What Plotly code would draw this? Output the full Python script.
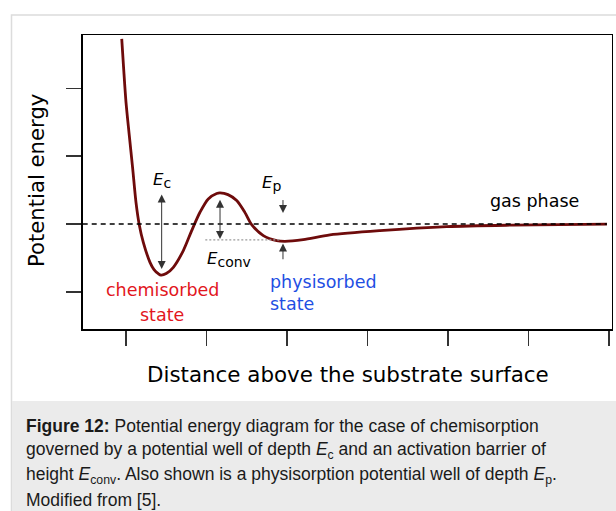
import plotly.graph_objects as go

# ---- data ----
distance = [0.947, 0.971, 1.000, 1.041, 1.083, 1.124, 1.165, 1.215, 1.298, 1.348, 1.401, 1.435,
            1.500, 1.588, 1.712, 1.816, 1.919, 2.022, 2.127, 2.168, 2.267, 2.375, 2.478,
            2.561, 2.706, 2.872, 2.975, 3.202, 3.534, 4.155, 4.984, 5.807, 6.390, 6.975]
energy = [2.727, 2.286, 1.794, 1.303, 0.817, 0.321, -0.012, -0.268, -0.563, -0.670, -0.730, -0.752,
          -0.728, -0.636, -0.390, -0.096, 0.174, 0.371, 0.450, 0.459, 0.434, 0.346, 0.169,
          -0.007, -0.169, -0.243, -0.253, -0.228, -0.159, -0.096, -0.037, -0.015, -0.007, 0.000]
x_ticks = [1, 2, 3, 4, 5, 6, 7]
y_ticks = [-1, 0, 1, 2]
gas_level = 0.0
phys_min_level = -0.233
ec_span = [0.459, -0.66]
econv_span = [0.38, -0.218]
ep_down = [0.376, 0.162]
ep_up = [-0.54, -0.285]

W, H = 616, 511
def px(x):
    return x / W
def py(y):
    return 1 - y / H

FONT = "DejaVu Sans"
CURVE = "#6e0b0b"

fig = go.Figure()
fig.add_trace(go.Scatter(x=distance, y=energy, mode="lines",
                         line=dict(color=CURVE, width=2.8, shape="spline", smoothing=0.8),
                         hoverinfo="skip", showlegend=False))

shapes = []
# outer container border and caption background
shapes.append(dict(type="rect", xref="paper", yref="paper", x0=px(11.5), x1=1.05,
                   y0=-0.05, y1=py(15), line=dict(color="#dcdcdc", width=1.5),
                   fillcolor="rgba(0,0,0,0)", layer="below"))
shapes.append(dict(type="rect", xref="paper", yref="paper", x0=px(12), x1=1.0,
                   y0=0, y1=py(401), line=dict(width=0), fillcolor="#ebebeb", layer="below"))
# gas phase dashed line
shapes.append(dict(type="line", xref="x", yref="y", x0=0.462, x1=distance[-1],
                   y0=gas_level, y1=gas_level, line=dict(color="black", width=1.5, dash="5px,4px")))
# gray dotted reference line
shapes.append(dict(type="line", xref="x", yref="y", x0=1.985, x1=2.93,
                   y0=phys_min_level, y1=phys_min_level, line=dict(color="#9a9a9a", width=1.2, dash="2px,2px")))

ann = []
def arrow(x, y_tip, y_tail, both=False):
    ann.append(dict(x=x, y=y_tip, ax=x, ay=y_tail, xref="x", yref="y", axref="x", ayref="y",
                    text="", showarrow=True, arrowhead=2, arrowsize=1.6, arrowwidth=1,
                    arrowcolor="#333333", arrowside="end+start" if both else "end",
                    standoff=0, startstandoff=0))

arrow(1.443, ec_span[1], ec_span[0], both=True)
arrow(2.168, econv_span[1], econv_span[0], both=True)
arrow(2.95, ep_down[1], ep_down[0])
arrow(2.95, ep_up[1], ep_up[0])

def txt(s, x, y, size, color="black", xanchor="center", family=FONT, angle=0, yanchor="middle"):
    ann.append(dict(text=s, x=px(x), y=py(y), xref="paper", yref="paper", showarrow=False,
                    xanchor=xanchor, yanchor=yanchor, textangle=angle,
                    font=dict(family=family, size=size, color=color)))

def elabel(sub):
    return "<i>E</i><sub><span style='font-size:14px'>" + sub + "</span></sub>"

# energy labels: italic E + subscript
txt(elabel("c"), 161.7, 180, 16.5)
txt(elabel("conv"), 228.7, 259, 16.5)
txt(elabel("p"), 271.7, 183, 16.5)

txt("chemisorbed", 162, 290, 17.5, color="#e2161d")
txt("state", 162, 315, 17.5, color="#e2161d")
txt("physisorbed", 268, 281.7, 17.5, color="#1f4fe3", xanchor="left")
txt("state", 268, 303.5, 17.5, color="#1f4fe3", xanchor="left")
txt("gas phase", 534, 200.7, 17.5)

txt("Distance above the substrate surface", 348, 374, 21.4)
txt("Potential energy", 37, 181, 21.2, angle=-90)

CAP = "Liberation Sans"
cap_lines = [
    "<b>Figure 12:</b> Potential energy diagram for the case of chemisorption",
    "governed by a potential well of depth <i>E</i><sub>c</sub> and an activation barrier of",
    "height <i>E</i><sub>conv</sub>. Also shown is a physisorption potential well of depth <i>E</i><sub>p</sub>.",
    "Modified from [5].",
]
for i, line in enumerate(cap_lines):
    txt(line, 24, 426 + 24.7 * i, 17.5, color="#1a1a1a", xanchor="left", family=CAP)

axis_common = dict(showgrid=False, zeroline=False, showticklabels=False, ticks="outside",
                   ticklen=15, tickwidth=1.5, tickcolor="#333333", showline=True, mirror=True,
                   linecolor="black", linewidth=1.5)

fig.update_layout(
    width=W, height=H, margin=dict(l=0, r=0, t=0, b=0),
    paper_bgcolor="white", plot_bgcolor="white", showlegend=False,
    xaxis=dict(domain=[px(82.7), px(611.7)], range=[0.462, 7.034], tickvals=x_ticks, **axis_common),
    yaxis=dict(domain=[py(329), py(35)], range=[-1.545, 2.785], tickvals=y_ticks, **axis_common),
    shapes=shapes, annotations=ann,
)

fig.write_html("out.html", config={"displayModeBar": False, "staticPlot": True},
               post_script="document.body.style.margin='0';document.body.style.overflow='hidden';")
